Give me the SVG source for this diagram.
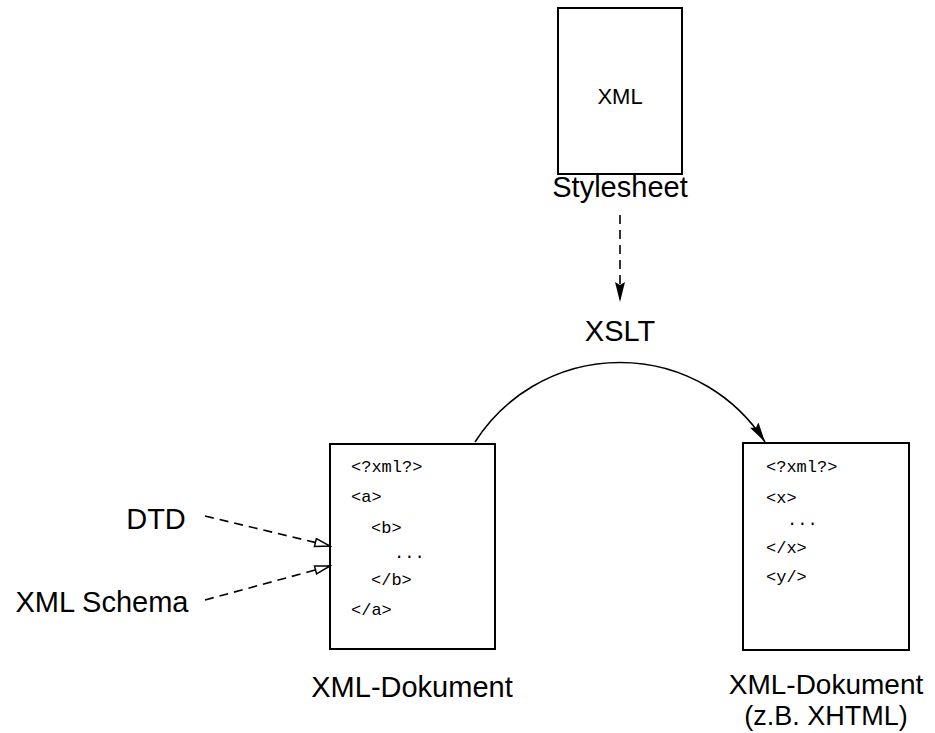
<svg xmlns="http://www.w3.org/2000/svg" width="935" height="733" viewBox="0 0 935 733">
<style>
.box{fill:#fff;stroke:#000;stroke-width:2}
.lbl{font-family:"Liberation Sans",Arial,sans-serif;font-size:29px;fill:#000;text-anchor:middle}
.code{font-family:"Liberation Mono","Courier New",monospace;font-size:17px;fill:#000}
.dash{fill:none;stroke:#000;stroke-width:1.6;stroke-dasharray:9,6}
.solid{fill:none;stroke:#000;stroke-width:1.6}
</style>
<defs>
<marker id="fill" markerUnits="userSpaceOnUse" markerWidth="22" markerHeight="12" refX="20" refY="5" orient="auto">
<path d="M0,0 L20,5 L0,10 L3,5 z" fill="#000"/>
</marker>
<marker id="open" markerUnits="userSpaceOnUse" markerWidth="18" markerHeight="12" refX="16" refY="5" orient="auto">
<path d="M1,1 L16,5 L1,9 z" fill="#fff" stroke="#000" stroke-width="1.5"/>
</marker>
</defs>
<g id="stylesheet">
<rect class="box" x="558" y="8" width="124" height="166"/>
<text class="lbl" x="620" y="104" style="font-size:22px">XML</text>
<text class="lbl" x="620" y="197">Stylesheet</text>
</g>
<g id="xslt">
<text class="lbl" x="620" y="341">XSLT</text>
</g>
<g id="doc1">
<rect class="box" x="330" y="444" width="165" height="205"/>
<text class="code" x="351" y="472">&lt;?xml?&gt;</text>
<text class="code" x="351" y="502">&lt;a&gt;</text>
<text class="code" x="371" y="533">&lt;b&gt;</text>
<text class="code" x="394" y="558">...</text>
<text class="code" x="371" y="585">&lt;/b&gt;</text>
<text class="code" x="351" y="615">&lt;/a&gt;</text>
<text class="lbl" x="412" y="697">XML-Dokument</text>
</g>
<g id="doc2">
<rect class="box" x="743" y="443" width="166" height="207"/>
<text class="code" x="766" y="472">&lt;?xml?&gt;</text>
<text class="code" x="766" y="503">&lt;x&gt;</text>
<text class="code" x="787" y="525">...</text>
<text class="code" x="766" y="553">&lt;/x&gt;</text>
<text class="code" x="766" y="582">&lt;y/&gt;</text>
<text class="lbl" x="826" y="694" style="font-size:28px">XML-Dokument</text>
<text class="lbl" x="826" y="725" style="font-size:27px">(z.B. XHTML)</text>
</g>
<g id="dtd">
<text class="lbl" x="156" y="529">DTD</text>
</g>
<g id="schema">
<text class="lbl" x="102" y="612">XML Schema</text>
</g>
<g id="connectors">
<path class="dash" d="M620,215 L620,302" marker-end="url(#fill)"/>
<path class="solid" d="M475,442 A172,172 0 0 1 765,442" marker-end="url(#fill)"/>
<path class="dash" d="M205,516 L330,546" marker-end="url(#open)"/>
<path class="dash" d="M205,600 L330,566" marker-end="url(#open)"/>
</g>
</svg>
